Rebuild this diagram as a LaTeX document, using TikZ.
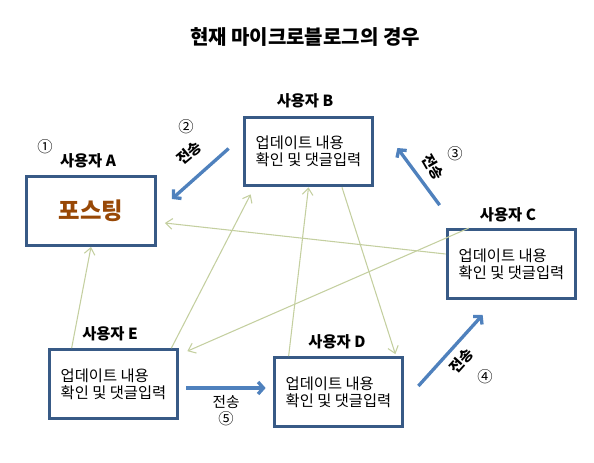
\documentclass[tikz,border=0pt]{standalone}
\usepackage{fontspec}
\setmainfont{Noto Sans CJK KR}
\usetikzlibrary{arrows.meta,calc}
\definecolor{boxline}{RGB}{56,90,134}
\definecolor{bluearrow}{RGB}{79,129,189}
\definecolor{thinline}{RGB}{196,207,160}
\definecolor{postbrown}{RGB}{152,72,6}
\begin{document}
\begin{tikzpicture}[x=0.75pt,y=-0.75pt,
  userbox/.style={draw=boxline,line width=2.3pt,minimum width=96.5pt,minimum height=51.5pt,
    align=left,inner sep=0pt,font=\fontsize{11.5}{13}\selectfont},
  userlabel/.style={font=\fontsize{11.5}{13}\selectfont\bfseries,inner sep=0pt},
  numlabel/.style={font=\fontsize{11.5}{12}\selectfont,inner sep=0pt},
  sendlabel/.style={font=\fontsize{11}{12}\selectfont\bfseries,inner sep=0pt},
  bluearr/.style={draw=bluearrow,line width=2.5pt,-{Straight Barb[length=4pt,width=9pt]}},
  thinarr/.style={draw=thinline,line width=0.8pt,-{Straight Barb[length=5pt,width=8pt]}}]
\useasboundingbox (0,0) rectangle (594,462);
\node[font=\fontsize{15}{17}\selectfont\bfseries] (title) at (305,37) {현재 마이크로블로그의 경우};
% boxes
\node[userbox,font=\fontsize{17.5}{19}\selectfont\bfseries,text=postbrown] (A) at (91,211) {포스팅};
\node[userbox] (B) at (308.5,151.5) {업데이트 내용\\확인 및 댓글입력};
\node[userbox] (C) at (511.5,264) {업데이트 내용\\확인 및 댓글입력};
\node[userbox] (E) at (113.5,384) {업데이트 내용\\확인 및 댓글입력};
\node[userbox] (D) at (338.5,392) {업데이트 내용\\확인 및 댓글입력};
% user labels
\node[numlabel] (n1) at (45,147) {①};
\node[userlabel] (la) at (88,161) {사용자 A};
\node[userlabel] (lb) at (305,101) {사용자 B};
\node[userlabel] (lc) at (508,215) {사용자 C};
\node[userlabel] (le) at (110,334) {사용자 E};
\node[userlabel] (ld) at (337,342) {사용자 D};
% thin connectors
\draw[thinarr] ($(C.west)+(0,-10)$) -- ($(A.east)+(8,12)$);
\draw[thinarr] ($(E.north west)+(24,0)$) -- (A.south);
\draw[thinarr] ($(E.north east)+(-8,0)$) -- ($(B.south west)+(8,7)$);
\draw[thinarr] ($(D.north west)+(16,0)$) -- (B.south);
\draw[thinarr] ($(B.south)+(33.5,0)$) -- ($(D.north east)+(-9,-2)$);
\draw[thinarr] ($(C.north west)+(23,0)$) -- ($(E.north east)+(8,3)$);
% blue send arrows
\draw[bluearr] ($(B.west)+(-14,-3)$) -- ($(A.east)+(15,-12)$);
\draw[bluearr] ($(C.north west)+(-6,-23)$) -- ($(B.east)+(23,-3.5)$);
\draw[bluearr] ($(D.east)+(14,-6)$) -- ($(C.south west)+(37,15)$);
\draw[bluearr] ($(E.east)+(7,4)$) -- ($(D.west)+(-7,-4)$);
% send labels
\node[numlabel] (n2) at (186,127) {②};
\node[sendlabel,rotate=40] (s2) at (189,153) {전송};
\node[numlabel] (n3) at (455,154) {③};
\node[sendlabel,rotate=-60] (s3) at (433,167) {전송};
\node[numlabel] (n4) at (485,377) {④};
\node[sendlabel,rotate=48] (s4) at (461,361) {전송};
\node[sendlabel,font=\fontsize{11}{12}\selectfont] (s5) at (226,402) {전송};
\node[numlabel] (n5) at (226,419) {⑤};
\end{tikzpicture}
\end{document}
